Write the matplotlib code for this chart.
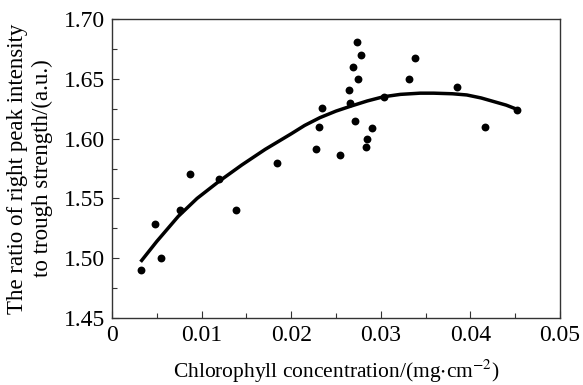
import matplotlib
matplotlib.use("Agg")
import matplotlib.pyplot as plt
from matplotlib.ticker import MultipleLocator, FixedFormatter, FixedLocator

plt.rcParams["font.family"] = ["Liberation Serif", "DejaVu Serif"]
plt.rcParams["mathtext.fontset"] = "stix"

# measured points (chlorophyll mg/cm2, peak/trough ratio)
chl = [0.0032, 0.0048, 0.0055, 0.0076, 0.0087, 0.0119, 0.0138, 0.0184,
       0.0228, 0.0231, 0.0234, 0.0254, 0.0265, 0.0266, 0.0271, 0.0269,
       0.0273, 0.0275, 0.0278, 0.0284, 0.0285, 0.0290, 0.0304, 0.0331,
       0.0338, 0.0385, 0.0416, 0.0452]
ratio = [1.490, 1.529, 1.500, 1.540, 1.570, 1.566, 1.540, 1.580,
         1.591, 1.610, 1.626, 1.586, 1.641, 1.630, 1.615, 1.660,
         1.681, 1.650, 1.670, 1.593, 1.600, 1.609, 1.635, 1.650,
         1.667, 1.643, 1.610, 1.624]

# fitted trend line
fit_x = [0.0032, 0.0050, 0.0074, 0.0095, 0.0119, 0.0145, 0.0171, 0.0200,
         0.0215, 0.0232, 0.0250, 0.0266, 0.0285, 0.0303, 0.0322, 0.0344,
         0.0359, 0.0380, 0.0396, 0.0412, 0.0426, 0.0440, 0.0452]
fit_y = [1.497, 1.514, 1.535, 1.550, 1.564, 1.578, 1.591, 1.604,
         1.611, 1.6175, 1.623, 1.627, 1.6315, 1.635, 1.637, 1.638,
         1.638, 1.6375, 1.6365, 1.634, 1.631, 1.628, 1.6245]

xticks = [0, 0.01, 0.02, 0.03, 0.04, 0.05]
xtick_labels = ["0", "0.01", "0.02", "0.03", "0.04", "0.05"]
yticks = [1.45, 1.50, 1.55, 1.60, 1.65, 1.70]
ytick_labels = ["1.45", "1.50", "1.55", "1.60", "1.65", "1.70"]

fig = plt.figure(figsize=(5.83, 3.85), dpi=100)
ax = fig.add_axes([0.192, 0.174, 0.7685, 0.7766])

ax.plot(fit_x, fit_y, color="black", lw=2.5, solid_capstyle="butt",
        solid_joinstyle="round", zorder=2)
ax.scatter(chl, ratio, s=32, color="black", zorder=3, linewidths=0)

ax.set_xlim(0, 0.05)
ax.set_ylim(1.45, 1.70)
ax.xaxis.set_major_locator(FixedLocator(xticks))
ax.xaxis.set_major_formatter(FixedFormatter(xtick_labels))
ax.yaxis.set_major_locator(FixedLocator(yticks))
ax.yaxis.set_major_formatter(FixedFormatter(ytick_labels))
ax.xaxis.set_minor_locator(MultipleLocator(0.005))
ax.yaxis.set_minor_locator(MultipleLocator(0.025))

ax.tick_params(which="both", direction="in", top=False, right=False,
               colors="#333333", labelcolor="black", labelsize=17, width=0.8)
ax.tick_params(which="major", length=5)
ax.tick_params(which="minor", length=3.5)
ax.tick_params(axis="x", pad=5)
ax.tick_params(axis="y", pad=5)
for s in ax.spines.values():
    s.set_color("#333333")
    s.set_linewidth(1.0)

ax.set_xlabel("Chlorophyll concentration/(mg$\\cdot$cm$^{-2}$)", fontsize=15.5,
              va="center")
ax.xaxis.set_label_coords(0.5, -0.18)
ax.set_ylabel("The ratio of right peak intensity\nto trough strength/(a.u.)",
              fontsize=16.5, linespacing=1.2, va="center")
ax.yaxis.set_label_coords(-0.183, 0.5)

fig.savefig("out.png", dpi=100)
